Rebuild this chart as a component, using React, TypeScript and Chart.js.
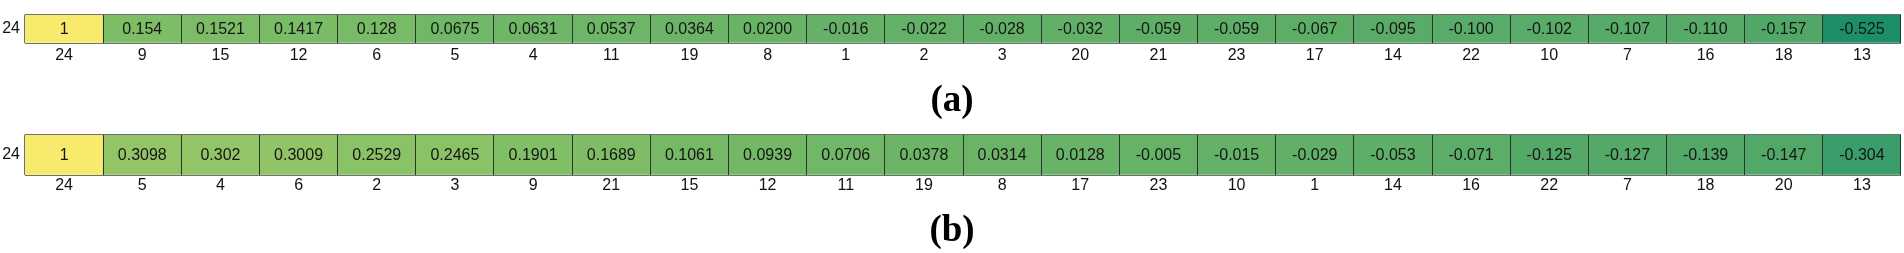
import React, { useEffect, useRef } from "react";
import { Chart, registerables } from "chart.js";

Chart.register(...registerables);

// ---------- data ----------
const rowLabel = "24";

const categoriesA = ["24", "9", "15", "12", "6", "5", "4", "11", "19", "8", "1", "2", "3", "20", "21", "23", "17", "14", "22", "10", "7", "16", "18", "13"];
const valueTextA = ["1", "0.154", "0.1521", "0.1417", "0.128", "0.0675", "0.0631", "0.0537", "0.0364", "0.0200", "-0.016", "-0.022", "-0.028", "-0.032", "-0.059", "-0.059", "-0.067", "-0.095", "-0.100", "-0.102", "-0.107", "-0.110", "-0.157", "-0.525"];

const categoriesB = ["24", "5", "4", "6", "2", "3", "9", "21", "15", "12", "11", "19", "8", "17", "23", "10", "1", "14", "16", "22", "7", "18", "20", "13"];
const valueTextB = ["1", "0.3098", "0.302", "0.3009", "0.2529", "0.2465", "0.1901", "0.1689", "0.1061", "0.0939", "0.0706", "0.0378", "0.0314", "0.0128", "-0.005", "-0.015", "-0.029", "-0.053", "-0.071", "-0.125", "-0.127", "-0.139", "-0.147", "-0.304"];

const captionA = "(a)";
const captionB = "(b)";

const valuesA = valueTextA.map(Number);
const valuesB = valueTextB.map(Number);

// shared colour scale (summer-like colormap), three stops
const colorMin = Math.min(...valuesA, ...valuesB);
const colorMax = Math.max(...valuesA, ...valuesB);
const STOPS: [number, number[]][] = [
  [0, [28, 142, 106]],
  [0.45, [125, 189, 102]],
  [1, [247, 234, 108]],
];

function heat(v: number): string {
  const t = Math.max(0, Math.min(1, (v - colorMin) / (colorMax - colorMin)));
  let k = 0;
  while (k < STOPS.length - 2 && t > STOPS[k + 1][0]) k++;
  const [t0, c0] = STOPS[k];
  const [t1, c1] = STOPS[k + 1];
  const f = (t - t0) / (t1 - t0);
  const c = c0.map((lo, i) => Math.round(lo + (c1[i] - lo) * f));
  return `rgb(${c[0]},${c[1]},${c[2]})`;
}

const FONT = '"Liberation Sans", Arial, Helvetica, sans-serif';

type RowProps = {
  categories: string[];
  texts: string[];
  values: number[];
  caption: string;
  top: number;
  height: number;
  padTop: number;
  axisHeight: number;
  tickPad: number;
  captionY: number;
};

function HeatRow(props: RowProps) {
  const ref = useRef<HTMLCanvasElement | null>(null);
  useEffect(() => {
    const canvas = ref.current;
    if (!canvas) return;
    const { categories, texts, values, caption, padTop, axisHeight, tickPad, captionY } = props;
    const n = categories.length;

    const cellText = {
      id: "cellText",
      afterDatasetsDraw(chart: any) {
        const ctx = chart.ctx;
        const meta = chart.getDatasetMeta(0);
        ctx.save();
        ctx.font = `16px ${FONT}`;
        ctx.fillStyle = "#151515";
        ctx.textAlign = "center";
        ctx.textBaseline = "middle";
        meta.data.forEach((el: any, i: number) => {
          const p = el.getProps(["x", "y", "base"], true);
          ctx.fillText(texts[i], p.x, (p.y + p.base) / 2 + 1);
        });
        ctx.restore();
      },
      afterDraw(chart: any) {
        const ctx = chart.ctx;
        ctx.save();
        ctx.font = `bold 37px "Liberation Serif", "Times New Roman", serif`;
        ctx.fillStyle = "#000";
        ctx.textAlign = "center";
        ctx.textBaseline = "middle";
        ctx.fillText(caption, chart.width / 2, captionY);
        ctx.restore();
      },
    };

    const chart = new Chart(canvas, {
      type: "bar",
      data: {
        labels: categories,
        datasets: [
          {
            data: categories.map(() => 1),
            backgroundColor: values.map(heat),
            borderWidth: 0,
            barPercentage: 1,
            categoryPercentage: 1,
          },
        ],
      },
      options: {
        responsive: false,
        maintainAspectRatio: false,
        animation: false,
        layout: { padding: { top: padTop, right: 3, left: 0, bottom: 0 } },
        plugins: {
          legend: { display: false },
          tooltip: { enabled: false },
        },
        scales: {
          x: {
            type: "category",
            offset: true,
            grid: {
              display: true,
              offset: true,
              drawTicks: false,
              z: 1,
              lineWidth: 1,
              color: (c: any) => (c.index === 0 || c.index === n ? "#6f6f6f" : "#2b352b"),
            },
            border: { display: false },
            ticks: {
              padding: tickPad,
              color: "#111",
              autoSkip: false,
              maxRotation: 0,
              font: { family: FONT, size: 16 },
            },
            afterFit: (s: any) => {
              s.height = axisHeight;
            },
          },
          y: {
            min: 0,
            max: 1,
            grid: {
              drawTicks: false,
              z: 1,
              lineWidth: 1,
              color: (c: any) => (c.tick && c.tick.value === 0.5 ? "rgba(0,0,0,0)" : "#6f6f6f"),
            },
            border: { display: false },
            ticks: {
              stepSize: 0.5,
              autoSkip: false,
              padding: 5,
              color: "#111",
              font: { family: FONT, size: 16 },
              callback: (v: any) => (Math.abs(Number(v) - 0.5) < 1e-9 ? rowLabel : ""),
            },
            afterFit: (s: any) => {
              s.width = 25;
            },
          },
        },
      } as any,
      plugins: [cellText],
    });
    return () => chart.destroy();
  }, []);

  return (
    <canvas
      ref={ref}
      width={1904}
      height={props.height}
      style={{ position: "absolute", left: 0, top: props.top, width: 1904, height: props.height, display: "block" }}
    />
  );
}

export default function App() {
  return (
    <div style={{ position: "absolute", left: 0, top: 0, width: 1904, height: 253, background: "#fff", overflow: "hidden" }}>
      <HeatRow
        categories={categoriesA}
        texts={valueTextA}
        values={valuesA}
        caption={captionA}
        top={0}
        height={120}
        padTop={3}
        axisHeight={77}
        tickPad={3}
        captionY={101}
      />
      <HeatRow
        categories={categoriesB}
        texts={valueTextB}
        values={valuesB}
        caption={captionB}
        top={120}
        height={133}
        padTop={14}
        axisHeight={78}
        tickPad={1}
        captionY={111}
      />
    </div>
  );
}
